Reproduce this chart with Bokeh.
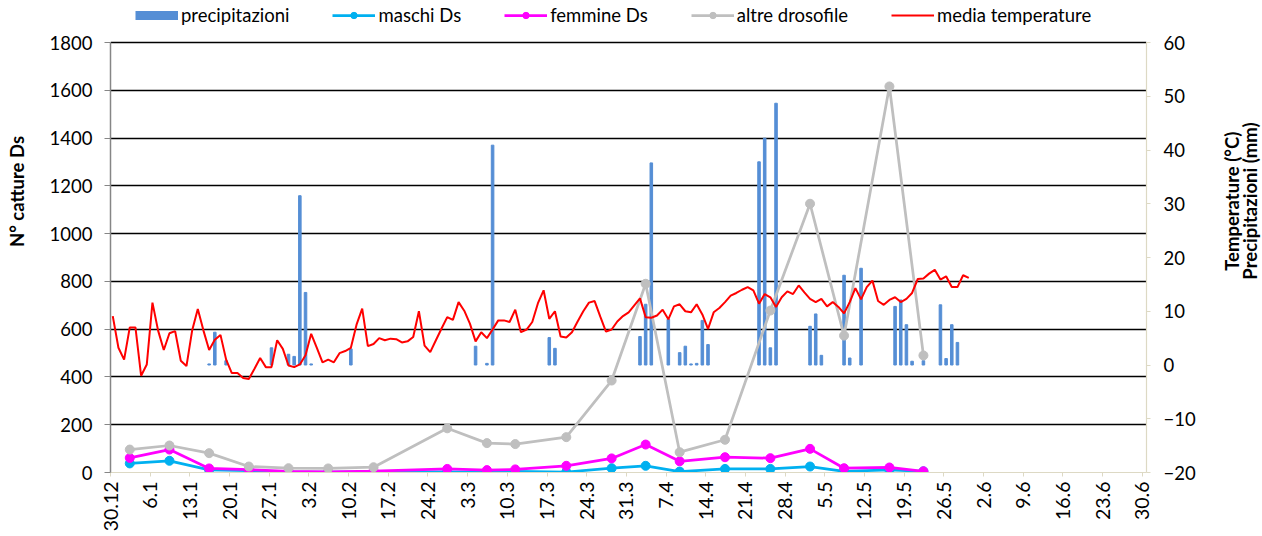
import math
from bokeh.plotting import figure
from bokeh.layouts import row
from bokeh.models import Range1d, LinearAxis, FixedTicker, Legend, LegendItem, Label
from bokeh.embed import file_html
from bokeh.resources import INLINE

# x axis: days counted from 30.12
tick_labels = ["30.12", "6.1", "13.1", "20.1", "27.1", "3.2", "10.2", "17.2", "24.2",
               "3.3", "10.3", "17.3", "24.3", "31.3", "7.4", "14.4", "21.4", "28.4",
               "5.5", "12.5", "19.5", "26.5", "2.6", "9.6", "16.6", "23.6", "30.6"]
tick_step_days = 7

# sampling days (days after 30.12) and catches
sample_days = [3, 10, 17, 24, 31, 38, 46, 59, 66, 71, 80, 88, 94, 100, 108, 116, 123, 129, 137, 143]
maschi = [38, 49, 11, 8, 3, 2, 3, 3, 2, 5, 2, 18, 28, 4, 15, 15, 25, 5, 11, 5]
femmine = [61, 96, 17, 12, 5, 3, 6, 15, 10, 13, 28, 59, 117, 47, 64, 60, 99, 18, 21, 5]
altre = [96, 113, 81, 25, 18, 17, 22, 185, 123, 119, 148, 385, 790, 85, 137, 678, 1125, 573, 1616, 490]

# daily mean temperature (°C), day 0 = 30.12
temperature = [9.1, 3.2, 1.0, 7.0, 7.0, -2.0, 0.1, 11.6, 6.4, 2.8,
               5.9, 6.3, 0.8, -0.2, 6.4, 10.4, 6.4, 2.8, 4.7, 5.6,
               1.0, -1.5, -1.5, -2.4, -2.6, -0.7, 1.3, -0.4, -0.4, 4.6,
               3.0, -0.1, -0.4, 0.1, 1.8, 5.8, 3.2, 0.5, 1.0, 0.5,
               2.2, 2.6, 3.2, 7.5, 10.5, 3.5, 3.9, 5.0, 4.6, 4.9,
               4.8, 4.2, 4.4, 5.2, 10.0, 3.6, 2.4, 4.6, 6.8, 8.9,
               8.4, 11.7, 10.1, 7.7, 4.4, 6.1, 5.0, 6.6, 8.3, 8.3,
               8.0, 10.3, 6.1, 6.6, 8.0, 11.5, 13.9, 8.6, 10.0, 5.3,
               5.1, 6.1, 8.1, 10.0, 11.6, 11.9, 9.0, 6.2, 6.6, 8.1,
               9.1, 9.8, 11.1, 12.4, 8.9, 8.8, 9.2, 10.3, 8.5, 10.9,
               11.3, 10.0, 9.8, 11.3, 9.4, 6.7, 9.8, 10.6, 11.7, 12.9,
               13.4, 14.0, 14.5, 13.9, 11.4, 13.2, 12.6, 10.8, 12.6, 13.7,
               13.2, 14.8, 13.5, 12.3, 11.7, 12.3, 10.9, 11.7, 10.8, 9.6,
               11.7, 14.3, 12.2, 14.5, 15.7, 11.9, 11.2, 12.1, 12.6, 11.7,
               12.3, 13.4, 16.0, 16.1, 17.0, 17.7, 15.9, 16.5, 14.5, 14.5,
               16.7, 16.2]

# daily precipitation (mm) on rainy days
rain_days = [17, 18, 20, 28, 31, 32, 33, 34, 35, 42, 64, 66, 67, 77, 78, 93, 94, 95, 98,
             100, 101, 102, 103, 104, 105, 114, 115, 116, 117, 123, 124, 125, 129, 130,
             132, 138, 139, 140, 141, 143, 146, 147, 148, 149]
rain_mm = [0.2, 6.1, 0.8, 3.2, 2.0, 1.6, 31.5, 13.5, 0.2, 3.0, 3.5, 0.3, 40.9, 5.1, 3.1,
           5.3, 11.3, 37.6, 8.5, 2.3, 3.5, 0.2, 0.3, 8.3, 3.8, 37.8, 42.2, 3.2, 48.7, 7.2,
           9.5, 1.8, 16.7, 1.3, 18.0, 10.9, 12.1, 7.5, 0.7, 0.8, 11.2, 1.2, 7.5, 4.2]

left_ticks = [0, 200, 400, 600, 800, 1000, 1200, 1400, 1600, 1800]
right_ticks = [-20, -10, 0, 10, 20, 30, 40, 50, 60]
left_title = "N° catture Ds"
right_title_lines = ["Temperature (°C)", "Precipitazioni (mm)"]

FONT = "Lato"
DAY_CENTER = 0.4
BLUE = "#558ED5"
CYAN = "#00B0F0"
MAGENTA = "#FF00FF"
GREY = "#BFBFBF"
RED = "#FF0000"
BEIGE = "#DDD9C4"

# layout (pixels)
H = 536
LEFT_W, RIGHT_W = 44, 66
FRAME_W, AXIS_H, TOP_SPACE = 1036, 430, 42
X_END = 182.75
L_MAX = left_ticks[-1] + TOP_SPACE * (left_ticks[-1] - left_ticks[0]) / AXIS_H
R_MAX = right_ticks[-1] + TOP_SPACE * (right_ticks[-1] - right_ticks[0]) / AXIS_H

p = figure(frame_width=FRAME_W, frame_height=AXIS_H + TOP_SPACE, output_backend="svg",
           toolbar_location=None, x_range=Range1d(0, X_END), y_range=Range1d(0, L_MAX),
           min_border_left=110 - LEFT_W, min_border_right=116 - RIGHT_W,
           min_border_top=0, min_border_bottom=H - AXIS_H - TOP_SPACE)
p.outline_line_color = None
p.xgrid.visible = False
p.ygrid.ticker = FixedTicker(ticks=left_ticks[1:])
p.ygrid.grid_line_color = "black"
p.ygrid.grid_line_width = 1.3

p.extra_y_ranges = {"r": Range1d(right_ticks[0], R_MAX)}

tick_pos = [i * tick_step_days for i in range(len(tick_labels))]
xa = p.xaxis[0]
xa.ticker = FixedTicker(ticks=tick_pos)
xa.major_label_overrides = {t: l for t, l in zip(tick_pos, tick_labels)}
xa.major_label_orientation = math.pi / 2
xa.axis_line_color = BEIGE
xa.axis_line_width = 1.2
xa.major_tick_line_color = BEIGE
xa.major_tick_out = 4
xa.major_tick_in = 0
xa.minor_tick_line_color = None
xa.major_label_text_font = FONT
xa.major_label_text_font_size = "19.5px"
xa.major_label_text_color = "black"
xa.major_label_standoff = 5

ya = p.yaxis[0]
ya.ticker = FixedTicker(ticks=left_ticks)
ya.bounds = (left_ticks[0], left_ticks[-1])
ya.axis_line_color = "#868686"
ya.axis_line_width = 1.5
ya.major_tick_line_color = "#868686"
ya.major_tick_out = 6
ya.major_tick_in = 0
ya.minor_tick_line_color = None
ya.major_label_text_font = FONT
ya.major_label_text_font_size = "18.5px"
ya.major_label_text_color = "black"
ya.major_label_standoff = 12

ra = LinearAxis(y_range_name="r", ticker=FixedTicker(ticks=right_ticks),
                bounds=(right_ticks[0], right_ticks[-1]))
ra.axis_line_color = BEIGE
ra.axis_line_width = 1.2
ra.major_tick_line_color = BEIGE
ra.major_tick_out = 4
ra.major_tick_in = 0
ra.minor_tick_line_color = None
ra.major_label_text_font = FONT
ra.major_label_text_font_size = "18.5px"
ra.major_label_text_color = "black"
ra.major_label_standoff = 13
p.add_layout(ra, "right")

rain_x = [d + DAY_CENTER for d in rain_days]
p.vbar(x=rain_x, top=rain_mm, bottom=0, width=0.45, color=BLUE, y_range_name="r")

sx = [d + DAY_CENTER for d in sample_days]
lm = p.line(sx, maschi, color=CYAN, line_width=2.75)
sm = p.scatter(sx, maschi, size=9, color=CYAN)
lf = p.line(sx, femmine, color=MAGENTA, line_width=2.75)
sf = p.scatter(sx, femmine, size=9, color=MAGENTA)
la = p.line(sx, altre, color=GREY, line_width=2.75)
sa = p.scatter(sx, altre, size=9, color=GREY)

tx = [i + DAY_CENTER for i in range(len(temperature))]
lt = p.line(tx, temperature, color=RED, line_width=2, y_range_name="r")

# legend swatch for the precipitation bars (NaN data: never drawn in the plot)
nan = float("nan")
proxy = p.line([nan, nan], [nan, nan], color=BLUE, line_width=9, line_cap="butt")

legend = Legend(items=[
    LegendItem(label="precipitazioni", renderers=[proxy]),
    LegendItem(label="maschi Ds", renderers=[lm, sm]),
    LegendItem(label="femmine Ds", renderers=[lf, sf]),
    LegendItem(label="altre drosofile", renderers=[la, sa]),
    LegendItem(label="media temperature", renderers=[lt]),
], orientation="horizontal", location=(25, AXIS_H + TOP_SPACE - 26))
legend.label_text_font = FONT
legend.label_text_font_size = "18.5px"
legend.label_text_color = "black"
legend.glyph_width = 43
legend.glyph_height = 16
legend.label_height = 16
legend.label_standoff = 3
legend.spacing = 43
legend.padding = 0
legend.margin = 0
legend.border_line_color = None
legend.background_fill_alpha = 0
p.add_layout(legend, "center")


# side strips holding the rotated axis titles (pixel coordinates, y up)
def title_strip(w):
    f = figure(width=w, height=H, output_backend="svg", toolbar_location=None,
               x_range=Range1d(0, w), y_range=Range1d(0, H),
               x_axis_location=None, y_axis_location=None,
               min_border_left=0, min_border_right=0, min_border_top=0, min_border_bottom=0)
    f.outline_line_color = None
    f.grid.visible = False
    return f


# text starts at its lower end and runs upwards
title_style = dict(text_font=FONT, text_font_style="bold", text_color="black",
                   text_align="left", text_baseline="middle", angle=math.pi / 2)

pl = title_strip(LEFT_W)
pl.add_layout(Label(x=16, y=H - 280, text=left_title, text_font_size="18.5px", **title_style))

pr = title_strip(RIGHT_W)
pr.add_layout(Label(x=1229 - (1262 - RIGHT_W), y=H - 307, text=right_title_lines[0],
                    text_font_size="18.5px", **title_style))
pr.add_layout(Label(x=1247 - (1262 - RIGHT_W), y=H - 317, text=right_title_lines[1],
                    text_font_size="18.5px", **title_style))

layout = row(pl, p, pr, spacing=0)
open("out.html", "w").write(file_html(layout, INLINE))
